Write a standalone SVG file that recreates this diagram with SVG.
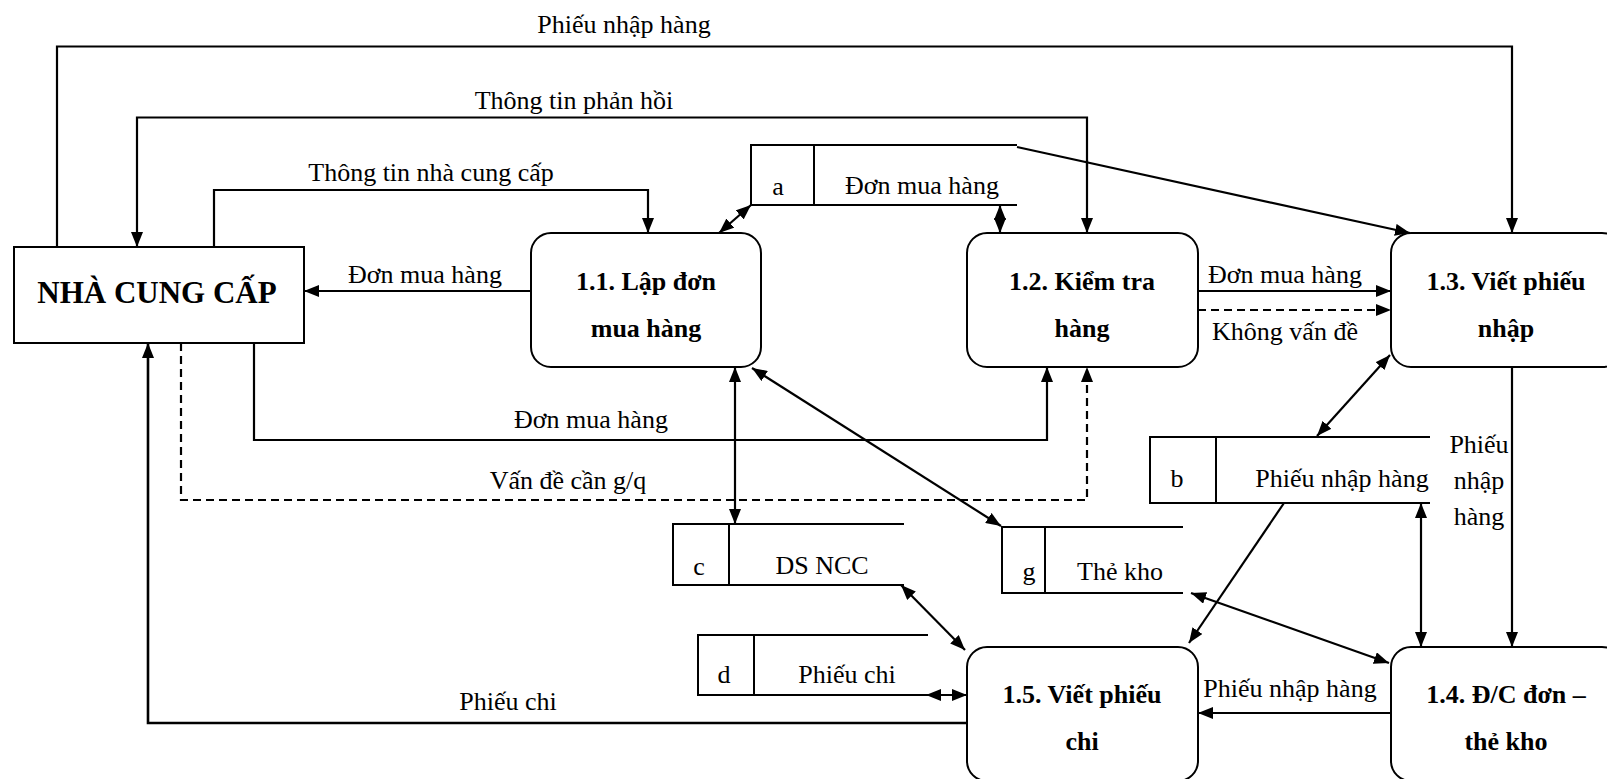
<svg xmlns="http://www.w3.org/2000/svg" width="1607" height="779" viewBox="0 0 1607 779">
<style>
text{font-family:"Liberation Serif","Times New Roman",serif;fill:#000}
.lb{font-size:26px}
.pb{font-size:26px;font-weight:bold;text-anchor:middle}
.c{text-anchor:middle}
.proc{fill:#fff;stroke:#000;stroke-width:2}
.ln{fill:none;stroke:#000;stroke-width:2.2}
.ds{fill:none;stroke:#000;stroke-width:2.2;stroke-dasharray:8,5}
.st{fill:none;stroke:#000;stroke-width:2}
.ae{marker-end:url(#arr)}
.ab{marker-start:url(#arr);marker-end:url(#arr)}
</style>
<defs>
<marker id="arr" markerUnits="userSpaceOnUse" markerWidth="16" markerHeight="12" refX="15" refY="6" orient="auto-start-reverse">
<path d="M0,0 L15,6 L0,12 z" fill="#000"/>
</marker>
</defs>
<rect width="1607" height="779" fill="#fff"/>

<g id="connectors">
<polyline class="ln ae" points="57,247 57,46.5 1512,46.5 1512,233"/>
<text class="lb c" x="624" y="33">Phiếu nhập hàng</text>
<polyline class="ln ae" points="1087,170 1087,117.5 137,117.5 137,247"/>
<line class="ln ae" x1="1087" y1="160" x2="1087" y2="233"/>
<text class="lb c" x="574" y="109">Thông tin phản hồi</text>
<polyline class="ln ae" points="214,247 214,190 648,190 648,233"/>
<text class="lb c" x="431" y="181">Thông tin nhà cung cấp</text>
<line class="ln ab" x1="751" y1="205" x2="719" y2="233"/>
<line class="ln ab" x1="1000" y1="205" x2="1000" y2="233"/>
<line class="ln ae" x1="1017" y1="147" x2="1410" y2="233"/>
<line class="ln ae" x1="531" y1="291" x2="304" y2="291"/>
<text class="lb c" x="425" y="283">Đơn mua hàng</text>
<line class="ln ae" x1="1198" y1="291" x2="1391" y2="291"/>
<text class="lb c" x="1285" y="283">Đơn mua hàng</text>
<line class="ds ae" x1="1198" y1="310" x2="1391" y2="310"/>
<text class="lb c" x="1285" y="340">Không vấn đề</text>
<polyline class="ln ae" points="254,343 254,440 1047,440 1047,367"/>
<text class="lb c" x="591" y="428">Đơn mua hàng</text>
<polyline class="ds ae" points="181,343 181,500 1087,500 1087,367"/>
<text class="lb c" x="568" y="489">Vấn đề cần g/q</text>
<line class="ln ab" x1="735" y1="367" x2="735" y2="524"/>
<line class="ln ab" x1="752" y1="368" x2="1001" y2="526"/>
<line class="ln ab" x1="1390" y1="355" x2="1317" y2="436"/>
<line class="ln ae" x1="1512" y1="367" x2="1512" y2="647"/>
<text class="lb c" x="1479" y="453">Phiếu</text>
<text class="lb c" x="1479" y="489">nhập</text>
<text class="lb c" x="1479" y="525">hàng</text>
<line class="ln ab" x1="1421" y1="503" x2="1421" y2="647"/>
<line class="ln ae" x1="1284" y1="503" x2="1189" y2="643"/>
<line class="ln ab" x1="1191" y1="593" x2="1389" y2="663"/>
<line class="ln ab" x1="901" y1="585" x2="965" y2="650"/>
<line class="ln ab" x1="926" y1="695" x2="967" y2="695"/>
<line class="ln ae" x1="1391" y1="713" x2="1198" y2="713"/>
<text class="lb c" x="1290" y="697">Phiếu nhập hàng</text>
<polyline class="ln ae" style="stroke-width:2.6" points="967,723 148,723 148,343"/>
<text class="lb c" x="508" y="710">Phiếu chi</text>
</g>

<g id="ncc">
<rect x="14" y="247" width="290" height="96" fill="#fff" stroke="#000" stroke-width="2"/>
<text x="157" y="303" style="font-size:31px;font-weight:bold;text-anchor:middle">NHÀ CUNG CẤP</text>
</g>

<g id="p11">
<rect class="proc" x="531" y="233" width="230" height="134" rx="20"/>
<text class="pb" x="646" y="290">1.1. Lập đơn</text>
<text class="pb" x="646" y="337">mua hàng</text>
</g>
<g id="p12">
<rect class="proc" x="967" y="233" width="231" height="134" rx="20"/>
<text class="pb" x="1082" y="290">1.2. Kiểm tra</text>
<text class="pb" x="1082" y="337">hàng</text>
</g>
<g id="p13">
<rect class="proc" x="1391" y="233" width="231" height="134" rx="20"/>
<text class="pb" x="1506" y="290">1.3. Viết phiếu</text>
<text class="pb" x="1506" y="337">nhập</text>
</g>
<g id="p14">
<rect class="proc" x="1391" y="647" width="231" height="134" rx="20"/>
<text class="pb" x="1506" y="703">1.4. Đ/C đơn –</text>
<text class="pb" x="1506" y="750">thẻ kho</text>
</g>
<g id="p15">
<rect class="proc" x="967" y="647" width="231" height="134" rx="20"/>
<text class="pb" x="1082" y="703">1.5. Viết phiếu</text>
<text class="pb" x="1082" y="750">chi</text>
</g>

<g id="store-a">
<path class="st" d="M1017,145 H751 V205 H1017 M814,145 V205"/>
<text class="lb c" x="778" y="195">a</text>
<text class="lb c" x="922" y="194">Đơn mua hàng</text>
</g>
<g id="store-b">
<path class="st" d="M1430,437 H1150 V503 H1430 M1216,437 V503"/>
<text class="lb c" x="1177" y="487">b</text>
<text class="lb c" x="1342" y="487">Phiếu nhập hàng</text>
</g>
<g id="store-c">
<path class="st" d="M904,524 H673 V585 H904 M729,524 V585"/>
<text class="lb c" x="699" y="575">c</text>
<text class="lb c" x="822" y="574">DS NCC</text>
</g>
<g id="store-d">
<path class="st" d="M928,635 H698 V695 H928 M754,635 V695"/>
<text class="lb c" x="724" y="683">d</text>
<text class="lb c" x="847" y="683">Phiếu chi</text>
</g>
<g id="store-g">
<path class="st" d="M1183,527 H1002 V593 H1183 M1045,527 V593"/>
<text class="lb c" x="1029" y="580">g</text>
<text class="lb c" x="1120" y="580">Thẻ kho</text>
</g>
</svg>
